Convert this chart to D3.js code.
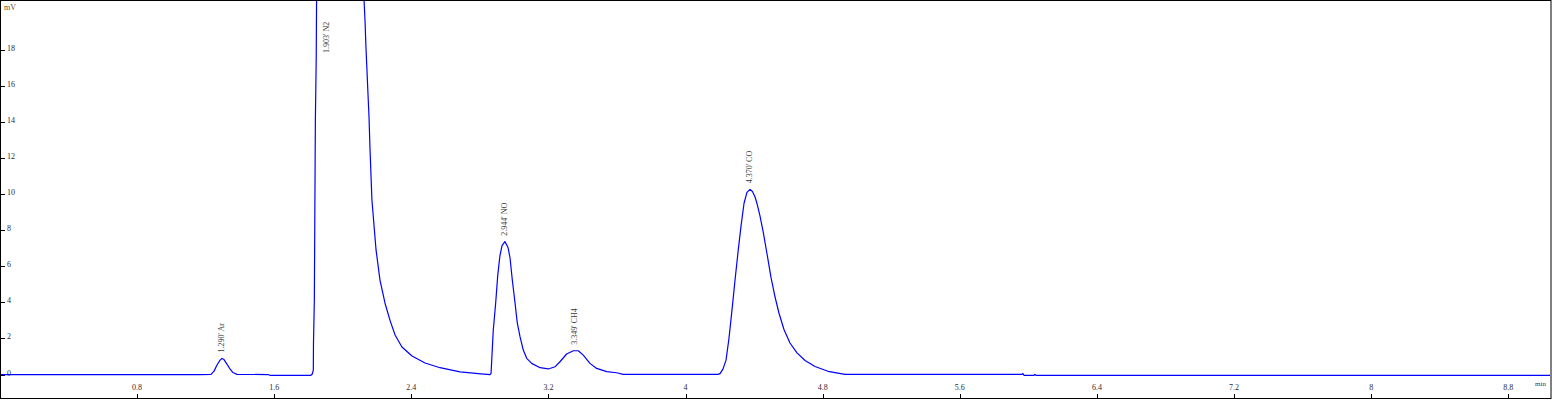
<!DOCTYPE html>
<html>
<head>
<meta charset="utf-8">
<script src="https://cdn.jsdelivr.net/npm/d3@7"></script>
<style>
  html, body { margin: 0; padding: 0; background: #fff; }
  svg { display: block; }
  text { font-family: "Liberation Serif", "Times New Roman", serif; }
</style>
</head>
<body>
<div id="chart"></div>
<script>
// ---- data ----
const times = [0, 1.167, 1.231, 1.249, 1.266, 1.284, 1.295, 1.307, 1.324, 1.342, 1.359, 1.383,
  1.564, 1.575, 1.814, 1.822, 1.828, 1.829, 1.834, 1.840, 1.845, 1.847, 1.86, 1.90, 1.98, 2.06, 2.10,
  2.124, 2.130, 2.135, 2.141, 2.147, 2.153, 2.159, 2.170, 2.194, 2.217, 2.246, 2.275, 2.305, 2.345,
  2.404, 2.480, 2.567, 2.684, 2.806, 2.859,
  2.865, 2.878, 2.892, 2.904, 2.917, 2.929, 2.946, 2.964, 2.976, 2.989, 3.005, 3.018, 3.034, 3.053,
  3.073, 3.102, 3.151, 3.199, 3.238, 3.267, 3.306, 3.345, 3.374, 3.403, 3.442, 3.481, 3.540, 3.598,
  3.635, 4.189,
  4.201, 4.218, 4.236, 4.253, 4.271, 4.288, 4.306, 4.323, 4.341, 4.358, 4.376, 4.390,
  4.405, 4.419, 4.434, 4.453, 4.475, 4.498, 4.522, 4.545, 4.574, 4.609, 4.650, 4.697, 4.755, 4.831,
  4.930, 5.963, 5.968, 5.974, 6.033, 6.038, 6.044, 9.055];
const signal = [0, 0, 0.01, 0.19, 0.53, 0.80, 0.89, 0.83, 0.58, 0.31, 0.11, 0.01,
  0, -0.04, -0.04, 0.03, 0.25, 1.75, 4.13, 14.1, 17.55, 20.77, 32, 45, 40, 28, 23.5,
  20.77, 19.55, 18.16, 16.89, 15.56, 14.28, 12.45, 9.68, 6.91, 5.24, 3.97, 3.02, 2.19, 1.53,
  1.03, 0.64, 0.38, 0.15, 0.04, 0,
  0.07, 2.47, 3.97, 5.5, 6.6, 7.15, 7.37, 7.05, 6.45, 5.24, 3.97, 2.86, 2.10, 1.36,
  0.90, 0.62, 0.38, 0.31, 0.43, 0.71, 1.14, 1.32, 1.32, 1.08, 0.62, 0.34, 0.16, 0.10,
  0.01, 0.01,
  0.05, 0.3, 0.8, 2.0, 3.6, 5.2, 6.8, 8.2, 9.5, 10.1, 10.27, 10.15,
  9.86, 9.4, 8.8, 7.9, 6.7, 5.4, 4.3, 3.4, 2.5, 1.75, 1.2, 0.78, 0.45, 0.18,
  0.01, 0.01, 0.06, -0.04, -0.04, 0.01, -0.04, -0.04];

const peakTimes  = [1.290, 1.903, 2.944, 3.349, 4.370];
const peakNames  = ["Ar", "N2", "NO", "CH4", "CO"];
const peakLabels = ["1.290' Ar", "1.903' N2", "2.944' NO", "3.349' CH4", "4.370' CO"];
const peakHeights = [0.89, 45, 7.37, 1.32, 10.27];

const xTicks = [0.8, 1.6, 2.4, 3.2, 4, 4.8, 5.6, 6.4, 7.2, 8, 8.8];
const yTicks = [0, 2, 4, 6, 8, 10, 12, 14, 16, 18];
const xUnit = "min";
const yUnit = "mV";

// ---- layout ----
const W = 1552, H = 400;
const x = d3.scaleLinear().domain([0, 9.055]).range([0, 1552]);
const y = d3.scaleLinear().domain([-1.3, 20.77]).range([398, 0]);

const svg = d3.select("#chart").append("svg")
  .attr("width", W).attr("height", H);

svg.append("defs").append("clipPath").attr("id", "clip")
  .append("rect").attr("x", 1).attr("y", 1).attr("width", 1549).attr("height", 397);

// frame
svg.append("rect").attr("x", 0.5).attr("y", 0.5).attr("width", 1550.5).attr("height", 398)
  .attr("fill", "none").attr("stroke", "#000").attr("stroke-width", 1);

const txtColor = "#2a2a3a";

// y axis ticks (inside, on left border)
const yAxis = svg.append("g").attr("class", "yaxis");
yAxis.selectAll("line").data(yTicks).join("line")
  .attr("x1", 0.5).attr("x2", 5)
  .attr("y1", d => Math.round(y(d)) + 0.5).attr("y2", d => Math.round(y(d)) + 0.5)
  .attr("stroke", "#000").attr("stroke-width", 1);
yAxis.selectAll("text").data(yTicks).join("text")
  .attr("x", 7).attr("y", d => y(d) + 1)
  .attr("font-size", 8).attr("fill", txtColor)
  .text(d => d);

// x axis ticks (inside, on bottom border)
const xAxis = svg.append("g").attr("class", "xaxis");
xAxis.selectAll("line").data(xTicks).join("line")
  .attr("x1", d => Math.round(x(d)) + 0.5).attr("x2", d => Math.round(x(d)) + 0.5)
  .attr("y1", 394).attr("y2", 399)
  .attr("stroke", "#000").attr("stroke-width", 1);
xAxis.selectAll("text").data(xTicks).join("text")
  .attr("x", d => x(d)).attr("y", 389.5)
  .attr("text-anchor", "middle")
  .attr("font-size", 8).attr("fill", txtColor)
  .text(d => d);

// units
svg.append("text").attr("x", 4).attr("y", 10).attr("font-size", 8)
  .attr("fill", "#6a4a20").text(yUnit);
svg.append("text").attr("x", 1535).attr("y", 386).attr("font-size", 7)
  .attr("fill", "#2a3a6a").text(xUnit);

// trace
const pts = times.map((t, i) => [t, signal[i]]);
const line = d3.line().x(d => x(d[0])).y(d => y(d[1]));
svg.append("path").datum(pts)
  .attr("clip-path", "url(#clip)")
  .attr("d", line)
  .attr("fill", "none")
  .attr("stroke", "#0000ff")
  .attr("stroke-width", 1.2)
  .attr("stroke-linejoin", "round");

// peak labels
const yTop = y(y.domain()[1]);
svg.append("g").selectAll("text").data(peakTimes).join("text")
  .attr("transform", (t, i) => {
    const py = Math.max(y(peakHeights[i]) - 6, yTop + 53);
    return `translate(${x(t)},${py}) rotate(-90)`;
  })
  .attr("dy", "0.33em")
  .attr("font-size", 8)
  .attr("fill", "#3a3a3a")
  .text((t, i) => peakLabels[i]);
</script>
</body>
</html>
